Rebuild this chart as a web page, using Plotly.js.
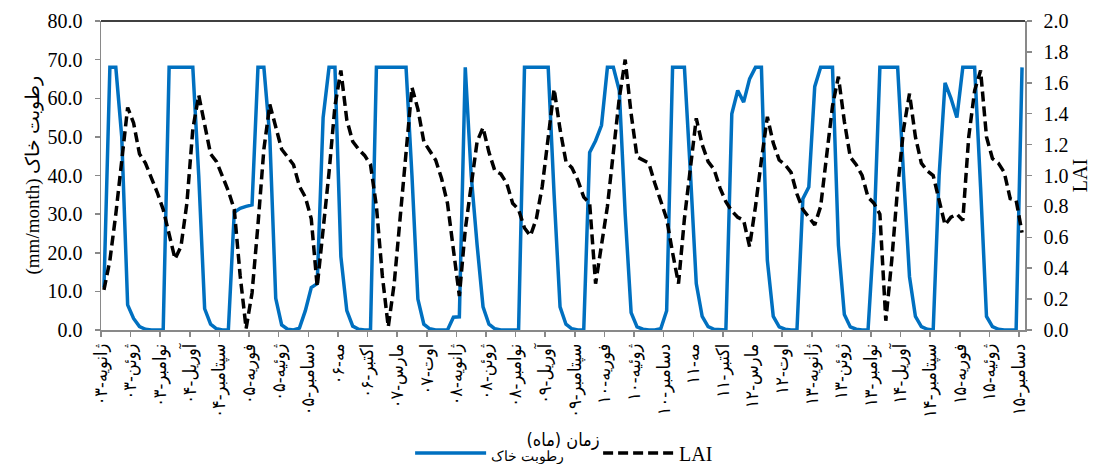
<!DOCTYPE html>
<html>
<head>
<meta charset="utf-8">
<script src="https://cdn.plot.ly/plotly-3.0.1.min.js"></script>
<style>html,body{margin:0;padding:0;background:#fff}#chart{width:1102px;height:464px}</style>
</head>
<body>
<div id="chart"></div>
<script>
// Month names (Persian transliteration) and two-digit years
const monthNames = ['ژانویه','فوریه','مارس','آوریل','مه','ژوئن','ژوئیه','اوت','سپتامبر','اکتبر','نوامبر','دسامبر'];
const years = ['۰۳','۰۴','۰۵','۰۶','۰۷','۰۸','۰۹','۱۰','۱۱','۱۲','۱۳','۱۴','۱۵'];

// Soil moisture (mm/month), monthly Jan-2003 .. Dec-2015
const soilMoisture = [
  11, 68, 68, 50, 6.5, 3, 0.9, 0.2, 0, 0, 0, 68,
  68, 68, 68, 68, 40, 5.5, 1.5, 0.3, 0, 0, 30.5, 31.5,
  32, 32.4, 68, 68, 50, 8.2, 1.3, 0.2, 0, 0.5, 5, 11,
  12, 55, 68, 68, 19, 5, 1, 0.2, 0, 0, 68, 68,
  68, 68, 68, 68, 40, 8, 1.5, 0.3, 0, 0, 0, 3.3,
  3.4, 68, 40, 22, 6, 1.5, 0.3, 0, 0, 0, 0, 68,
  68, 68, 68, 68, 35, 6, 1.5, 0.3, 0, 0, 46, 49,
  53, 68, 68, 62, 30, 4.5, 0.8, 0.2, 0, 0, 0.3, 5,
  68, 68, 68, 41, 12, 3.5, 0.9, 0.2, 0, 0, 56, 62,
  59, 65, 68, 68, 18, 3.5, 0.8, 0.2, 0, 0, 34, 37,
  63, 68, 68, 68, 22, 4, 0.8, 0.2, 0, 0, 25, 68,
  68, 68, 68, 40, 13.8, 3.5, 0.9, 0.2, 0, 40, 64, 60,
  55, 68, 68, 68, 37, 3.5, 0.9, 0.2, 0, 0, 0, 68
];

// LAI, monthly Jan-2003 .. Dec-2015
const lai = [
  0.26, 0.45, 0.75, 1.10, 1.44, 1.34, 1.14, 1.08, 0.99, 0.89, 0.78, 0.62,
  0.46, 0.54, 0.82, 1.30, 1.52, 1.33, 1.14, 1.09, 0.99, 0.90, 0.78, 0.35,
  0.01, 0.24, 0.68, 1.17, 1.46, 1.32, 1.17, 1.12, 1.07, 0.93, 0.86, 0.72,
  0.28, 0.65, 1.02, 1.45, 1.68, 1.36, 1.22, 1.17, 1.13, 1.07, 0.80, 0.35,
  0.02, 0.30, 0.73, 1.17, 1.57, 1.43, 1.22, 1.16, 1.10, 0.98, 0.82, 0.52,
  0.22, 0.65, 0.92, 1.22, 1.31, 1.15, 1.03, 1.01, 0.95, 0.82, 0.78, 0.66,
  0.61, 0.72, 0.93, 1.25, 1.56, 1.30, 1.09, 1.05, 0.97, 0.86, 0.82, 0.30,
  0.56, 0.80, 1.15, 1.50, 1.75, 1.40, 1.12, 1.10, 1.08, 0.95, 0.84, 0.72,
  0.50, 0.30, 0.72, 1.05, 1.37, 1.20, 1.09, 1.04, 0.92, 0.83, 0.77, 0.73,
  0.71, 0.54, 0.80, 1.10, 1.38, 1.21, 1.10, 1.07, 1.02, 0.88, 0.78, 0.73,
  0.68, 0.80, 1.15, 1.45, 1.64, 1.35, 1.12, 1.07, 1.00, 0.86, 0.82, 0.75,
  0.06, 0.45, 0.92, 1.30, 1.53, 1.25, 1.08, 1.03, 1.00, 0.85, 0.68, 0.73,
  0.75, 0.71, 1.25, 1.55, 1.68, 1.25, 1.11, 1.08, 1.02, 0.85, 0.84, 0.63
];

// Text
const seriesNames = ['رطوبت خاک', 'LAI'];
const xTitle = 'زمان (ماه)\u200F';
const yTitle = '(mm/month) رطوبت خاک';
const y2Title = 'LAI';

// Category labels: month-year
const categories = [];
years.forEach(y => monthNames.forEach(m => categories.push(m + '-' + y)));
const xIndex = categories.map((_, i) => i);

// Label every 5th month, tick marks on category boundaries
const labelStep = 5;
const tickVals = [], tickText = [];
for (let i = 0; i < categories.length; i += labelStep) {
  tickVals.push(i - 0.5);
  tickText.push(categories[i]);
}

const serif = 'Liberation Serif, Times New Roman, serif';
const arabic = 'DejaVu Sans Condensed, DejaVu Sans, sans-serif';
const axisGray = '#898989';
const ar = (s, size) => '<span style="font-size:' + size + 'px">' + s + '</span>';

const traces = [
  {
    x: xIndex, y: soilMoisture, text: categories, type: 'scatter', mode: 'lines',
    name: ar(seriesNames[0], 14), yaxis: 'y',
    line: {color: '#0070C0', width: 3.5}
  },
  {
    x: xIndex, y: lai, text: categories, type: 'scatter', mode: 'lines',
    name: seriesNames[1], yaxis: 'y2',
    line: {color: '#000000', width: 3.5, dash: '10px,5px'}
  }
];

const layout = {
  width: 1102, height: 464,
  margin: {l: 101, r: 77, t: 21, b: 134, autoexpand: false},
  paper_bgcolor: '#fff', plot_bgcolor: '#fff',
  font: {family: serif, color: '#000', size: 20},
  showlegend: true,
  legend: {
    orientation: 'h', x: 0.538, xanchor: 'center', y: -0.398, yanchor: 'middle',
    font: {family: serif, size: 20, color: '#000'},
    itemwidth: 71, entrywidth: 102, traceorder: 'normal', bgcolor: 'rgba(0,0,0,0)'
  },
  xaxis: {
    range: [-0.5, categories.length - 0.5],
    tickmode: 'array', tickvals: tickVals, ticktext: tickText,
    tickangle: -90,
    ticks: 'outside', ticklen: 5, tickcolor: axisGray, tickwidth: 1.5,
    showline: true, linecolor: axisGray, linewidth: 1.5,
    showgrid: false, zeroline: false,
    tickfont: {family: arabic, size: 18, color: '#000'},
    title: {text: xTitle, font: {family: arabic, size: 18, color: '#000'}, standoff: 16},
    automargin: false
  },
  yaxis: {
    range: [0, 80], dtick: 10, tick0: 0, tickformat: '.1f',
    ticks: 'outside', ticklen: 5, tickcolor: axisGray, tickwidth: 1.5,
    ticklabelstandoff: 8,
    showline: true, linecolor: axisGray, linewidth: 1.5,
    showgrid: false, zeroline: false,
    tickfont: {family: serif, size: 20, color: '#000'},
    automargin: false
  },
  yaxis2: {
    range: [0, 2], dtick: 0.2, tick0: 0, tickformat: '.1f',
    overlaying: 'y', side: 'right',
    ticks: 'outside', ticklen: 5, tickcolor: axisGray, tickwidth: 1.5,
    ticklabelstandoff: 8,
    showline: true, linecolor: axisGray, linewidth: 1.5,
    showgrid: false, zeroline: false,
    tickfont: {family: serif, size: 20, color: '#000'},
    title: {text: y2Title, font: {family: serif, size: 20, color: '#000'}, standoff: 4},
    automargin: false
  },
  annotations: [
    {text: yTitle, xref: 'paper', yref: 'paper', x: 0, y: 0.5, xanchor: 'center', yanchor: 'middle',
     xshift: -69, textangle: -90, showarrow: false,
     font: {family: serif, size: 19, color: '#000'}}
  ],
  shapes: [
    {type: 'line', xref: 'paper', yref: 'paper', x0: 0, x1: 1, y0: 1, y1: 1,
     line: {color: '#000', width: 1.5}}
  ]
};

Plotly.newPlot('chart', traces, layout, {displayModeBar: false, staticPlot: true});
</script>
</body>
</html>
